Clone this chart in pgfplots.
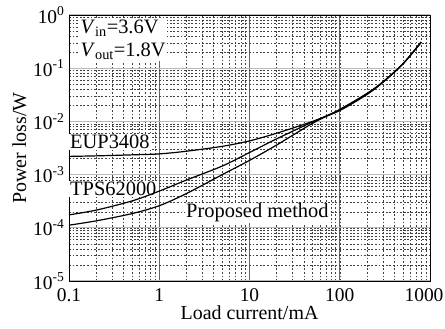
\documentclass[border=0pt]{standalone}
\usepackage{fontspec}
\setmainfont{Liberation Serif}
\usepackage{pgfplots}
\pgfplotsset{compat=1.18}
\begin{document}
\begin{tikzpicture}
\begin{axis}[
 scale only axis, width=361bp, height=266bp,
 xmode=log, ymode=log,
 xmin=0.1, xmax=1000, ymin=1e-5, ymax=1,
 xtick={0.1,1,10,100,1000}, xticklabels={0.1,1,10,100,{\hspace{-12bp}1000}},
 ytick={1e-5,1e-4,1e-3,1e-2,1e-1,1},
 yticklabels={10\textsuperscript{-5},10\textsuperscript{-4},10\textsuperscript{-3},10\textsuperscript{-2},10\textsuperscript{-1},10\textsuperscript{0}},
 grid=both,
 major x grid style={black!60, line width=0.8bp},
 major y grid style={gray!55, line width=1.3bp},
 minor grid style={black!75, line width=0.35bp, dash pattern=on 1.8bp off 1.8bp},
 tick style={draw=none},
 axis line style={black, line width=0.9bp},
 ticklabel style={font=\fontsize{19.5}{20}\selectfont},
 xticklabel style={yshift=-4bp},
 yticklabel style={xshift=-1bp},
 xlabel={Load current/mA}, ylabel={Power loss/W},
 label style={font=\fontsize{20}{22}\selectfont},
 xlabel style={yshift=3bp},
 cycle list={{black}},
 every axis plot post/.append style={black, line width=1.2bp, no marks, smooth},
]
\node[anchor=north west, fill=white, inner sep=1.5bp, align=left, font=\fontsize{20.5}{23}\selectfont] at ([xshift=10bp,yshift=-3bp]axis cs:0.1,1) {\textit{V}\textsubscript{in}=3.6V\\\textit{V}\textsubscript{out}=1.8V};
\node[anchor=west, fill=white, inner sep=1bp, font=\fontsize{20.5}{22}\selectfont] at (axis cs:0.1,4.1e-3) {EUP3408};
\node[anchor=west, fill=white, inner sep=1bp, font=\fontsize{20.5}{22}\selectfont] at (axis cs:0.1,5.4e-4) {TPS62000};
\node[anchor=west, fill=white, inner sep=1bp, font=\fontsize{20.5}{22}\selectfont] at (axis cs:1.93,1.9e-4) {Proposed method};
\addplot coordinates {(0.1,2.2e-3)(0.2,2.25e-3)(0.5,2.35e-3)(1,2.45e-3)(2,2.75e-3)(5,3.4e-3)(10,4.3e-3)(20,6.0e-3)(50,1.0e-2)(100,1.6e-2)(200,3.2e-2)(300,5.4e-2)(500,1.2e-1)(800,3.1e-1)};
\addplot coordinates {(0.1,1.75e-4)(0.2,2.15e-4)(0.5,3.2e-4)(1,4.9e-4)(2,7.9e-4)(5,1.45e-3)(10,2.6e-3)(20,4.7e-3)(50,9.8e-3)(100,1.65e-2)(200,3.3e-2)(300,5.5e-2)(500,1.2e-1)(800,3.1e-1)};
\addplot coordinates {(0.1,1.12e-4)(0.2,1.35e-4)(0.5,1.85e-4)(1,2.6e-4)(2,4.4e-4)(5,1.0e-3)(10,1.85e-3)(20,3.6e-3)(50,9.2e-3)(100,1.68e-2)(200,3.35e-2)(300,5.5e-2)(500,1.2e-1)(800,3.1e-1)};
\end{axis}
\pgfresetboundingbox
\path[use as bounding box] (current axis.south west) ++(-69bp,-48bp) rectangle ++(445bp,329bp);
\end{tikzpicture}
\end{document}
